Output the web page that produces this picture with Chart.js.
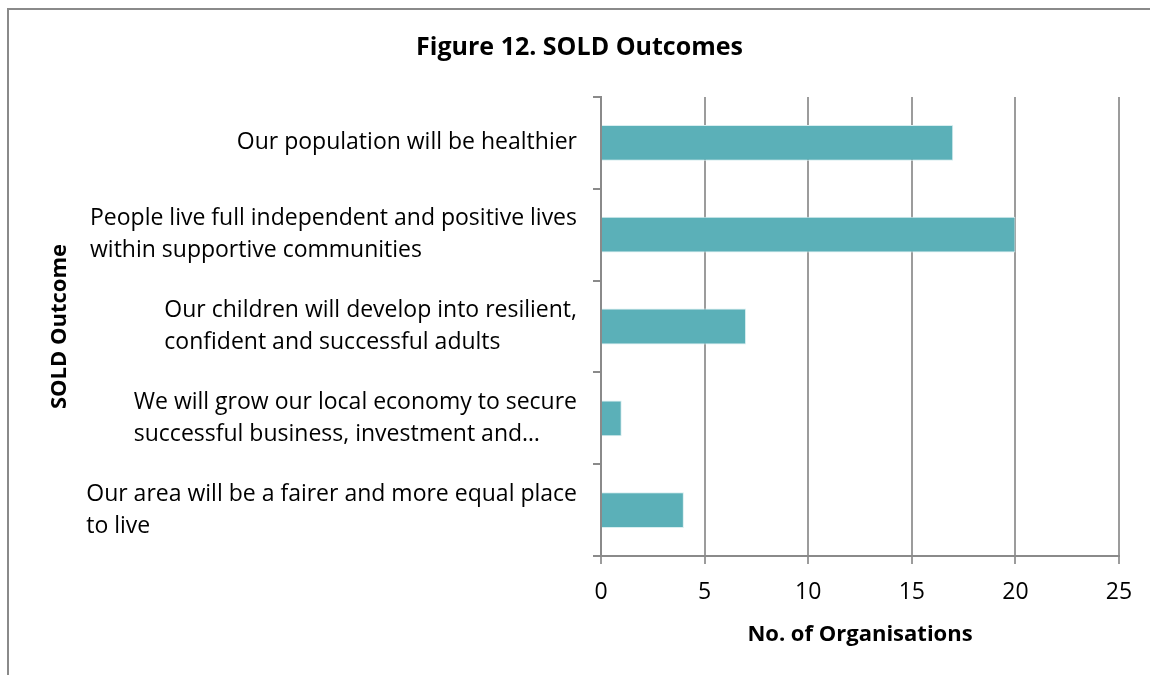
<!DOCTYPE html>
<html>
<head>
<meta charset="utf-8">
<script src="https://cdn.jsdelivr.net/npm/chart.js@4"></script>
<style>
    html, body { margin: 0; padding: 0; background: #fff; }
    #wrap { position: relative; width: 1150px; height: 675px; overflow: hidden; }
    #frame { position: absolute; left: 7px; top: 8px; width: 1200px; height: 700px; border: 2px solid #8a8a8a; box-sizing: border-box; }
    canvas { position: absolute; left: 0; top: 0; }
</style>
</head>
<body>
<div id="wrap">
    <div id="frame"></div>
    <canvas id="sold-chart" width="1150" height="675"></canvas>
</div>
<script>
const outcomes = [
    ['Our population will be healthier'],
    ['People live full independent and positive lives', 'within supportive communities'],
    ['Our children will develop into resilient,', 'confident and successful adults'],
    ['We will grow our local economy to secure', 'successful business, investment and…'],
    ['Our area will be a fairer and more equal place', 'to live']
];
const organisations = [17, 20, 7, 1, 4];
const xTicks = [0, 5, 10, 15, 20, 25];

const fontFamily = '"Open Sans", Lato, sans-serif';
const gridGray = '#9c9c9c';

// category labels: lines left-aligned, block right-aligned against the axis
const blockLabels = {
    id: 'blockLabels',
    afterDraw(chart) {
        const scale = chart.scales.y;
        const ctx = chart.ctx;
        const lineHeight = 32;
        ctx.save();
        ctx.font = '23px ' + fontFamily;
        ctx.fillStyle = '#000';
        ctx.textBaseline = 'middle';
        ctx.textAlign = 'left';
        const right = scale.right - 24;
        outcomes.forEach((lines, i) => {
            const cy = scale.getPixelForTick(i);
            const w = Math.max(...lines.map(l => ctx.measureText(l).width));
            const top = cy - (lines.length - 1) * lineHeight / 2;
            lines.forEach((l, j) => ctx.fillText(l, right - w, top + j * lineHeight));
        });
        ctx.restore();
    }
};

const ctx = document.getElementById('sold-chart').getContext('2d');
new Chart(ctx, {
    type: 'bar',
    data: {
        labels: outcomes.map(l => l.join(' ')),
        datasets: [{
            data: organisations,
            backgroundColor: '#5bb0b8',
            borderColor: '#d8eef0',
            borderWidth: 1,
            barPercentage: 0.39,
            categoryPercentage: 1
        }]
    },
    options: {
        indexAxis: 'y',
        responsive: false,
        animation: false,
        layout: {
            padding: { left: 40, right: 31, top: 8, bottom: 27 }
        },
        scales: {
            x: {
                min: 0,
                max: 25,
                afterBuildTicks: (scale) => { scale.ticks = xTicks.map(v => ({ value: v })); },
                grid: { color: gridGray, lineWidth: 2, tickLength: 8 },
                border: { color: '#8a8a8a', width: 2 },
                ticks: {
                    color: '#000',
                    padding: 15,
                    font: { family: fontFamily, size: 23 }
                },
                title: {
                    display: true,
                    text: 'No. of Organisations',
                    color: '#000',
                    padding: { top: 0, bottom: 0 },
                    font: { family: fontFamily, size: 22, weight: 'bold' }
                }
            },
            y: {
                afterFit: (scale) => { scale.width = 561; },
                grid: { drawOnChartArea: false, color: '#8a8a8a', lineWidth: 2, tickLength: 8 },
                border: { color: '#8a8a8a', width: 2 },
                ticks: { display: false },
                title: {
                    display: true,
                    text: 'SOLD Outcome',
                    color: '#000',
                    padding: { top: 7, bottom: 0 },
                    font: { family: fontFamily, size: 22, weight: 'bold' }
                }
            }
        },
        plugins: {
            legend: { display: false },
            tooltip: { enabled: false },
            title: {
                display: true,
                text: 'Figure 12. SOLD Outcomes',
                color: '#000',
                padding: { top: 25, bottom: 34 },
                font: { family: fontFamily, size: 25, weight: 'bold' }
            }
        }
    },
    plugins: [blockLabels]
});
</script>
</body>
</html>
